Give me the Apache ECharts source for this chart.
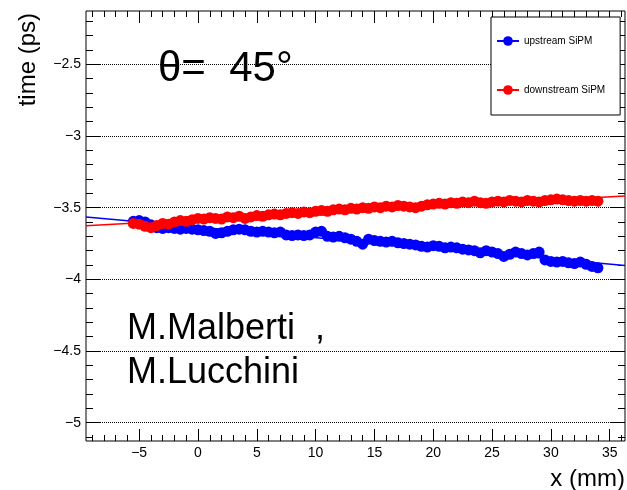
<!DOCTYPE html>
<html>
<head>
<meta charset="utf-8">
<script src="https://cdn.jsdelivr.net/npm/echarts@6/dist/echarts.min.js"></script>
<style>
  html, body { margin: 0; padding: 0; background: #fff; }
  #chart { width: 627px; height: 490px; }
</style>
</head>
<body>
<div id="chart"></div>
<script>
// x positions (mm) of the scan points
const xPos = [
  -5.5, -5, -4.5, -4, -3.5, -3, -2.5, -2, -1.5, -1,
  -0.5, 0, 0.5, 1, 1.5, 2, 2.5, 3, 3.5, 4,
  4.5, 5, 5.5, 6, 6.5, 7, 7.5, 8, 8.5, 9,
  9.5, 10, 10.5, 11, 11.5, 12, 12.5, 13, 13.5, 14,
  14.5, 15, 15.5, 16, 16.5, 17, 17.5, 18, 18.5, 19,
  19.5, 20, 20.5, 21, 21.5, 22, 22.5, 23, 23.5, 24,
  24.5, 25, 25.5, 26, 26.5, 27, 27.5, 28, 28.5, 29,
  29.5, 30, 30.5, 31, 31.5, 32, 32.5, 33, 33.5, 34
];
const upstream = [
  -3.595, -3.59, -3.60, -3.62, -3.64, -3.645, -3.64, -3.645, -3.65, -3.645,
  -3.65, -3.655, -3.66, -3.665, -3.68, -3.675, -3.665, -3.655, -3.65, -3.655,
  -3.665, -3.67, -3.665, -3.67, -3.675, -3.67, -3.69, -3.695, -3.69, -3.695,
  -3.69, -3.67, -3.665, -3.70, -3.705, -3.70, -3.71, -3.72, -3.735, -3.755,
  -3.72, -3.73, -3.735, -3.74, -3.735, -3.745, -3.75, -3.755, -3.76, -3.77,
  -3.775, -3.765, -3.77, -3.78, -3.775, -3.78, -3.79, -3.795, -3.80, -3.815,
  -3.80, -3.81, -3.82, -3.84, -3.825, -3.81, -3.82, -3.83, -3.82, -3.81,
  -3.865, -3.875, -3.88, -3.875, -3.885, -3.89, -3.88, -3.895, -3.91, -3.92
];
const downstream = [
  -3.61, -3.615, -3.63, -3.64, -3.625, -3.61, -3.615, -3.60, -3.59, -3.595,
  -3.585, -3.575, -3.58, -3.57, -3.575, -3.58, -3.565, -3.57, -3.56, -3.575,
  -3.565, -3.555, -3.56, -3.55, -3.545, -3.55, -3.54, -3.535, -3.54, -3.53,
  -3.535, -3.525, -3.52, -3.525, -3.515, -3.51, -3.515, -3.505, -3.51, -3.50,
  -3.505, -3.495, -3.50, -3.49, -3.495, -3.485, -3.49, -3.495, -3.50, -3.49,
  -3.48, -3.475, -3.47, -3.475, -3.465, -3.47, -3.46, -3.465, -3.455, -3.465,
  -3.47, -3.46, -3.455, -3.46, -3.45, -3.455, -3.46, -3.45, -3.455, -3.46,
  -3.45, -3.445, -3.44, -3.445, -3.45, -3.455, -3.45, -3.455, -3.45, -3.455
];
// straight-line fits, read at the two frame edges
const fitX = [-9.52, 36.3];
const upstreamFit = [-3.566, -3.903];
const downstreamFit = [-3.626, -3.419];

const xMajor = [-5, 0, 5, 10, 15, 20, 25, 30, 35];
const yMajor = [-5, -4.5, -4, -3.5, -3, -2.5];

const X_MIN = -9.52, X_MAX = 36.3;
const Y_MIN = -5.128, Y_MAX = -2.128;
const FONT = '"Liberation Sans", Arial, sans-serif';

const xMinor = [];
for (let v = -9; v <= 36; v++) xMinor.push(v);
const yMinor = [];
for (let i = -51; i <= -22; i++) yMinor.push(i / 10);

const minus = v => String(v).replace('-', '\u2212');
const pairs = (xs, ys) => xs.map((x, i) => [x, ys[i]]);

function axis(pos, min, max, ticks, len, labels, grid) {
  return {
    type: 'value', position: pos, min: min, max: max,
    axisLine: { show: false, onZero: false },
    axisTick: { show: true, inside: true, length: len, customValues: ticks,
      lineStyle: { color: '#000', width: 1 } },
    axisLabel: labels ? { show: true, customValues: ticks, formatter: minus,
      fontSize: 14, color: '#000', fontFamily: FONT, margin: 5 } : { show: false },
    splitLine: grid ? { show: true, lineStyle: { color: '#000', type: 'dotted', width: 1 } } : { show: false }
  };
}

const chart = echarts.init(document.getElementById('chart'), null, { renderer: 'canvas' });
chart.setOption({
  animation: false,
  backgroundColor: '#fff',
  grid: { left: 86, top: 11, right: 2, bottom: 49, show: true,
    borderColor: '#000', borderWidth: 1, backgroundColor: 'transparent' },
  xAxis: [
    axis('bottom', X_MIN, X_MAX, xMajor, 12, true, false),
    axis('bottom', X_MIN, X_MAX, xMinor, 6, false, false),
    axis('top', X_MIN, X_MAX, xMajor, 12, false, false),
    axis('top', X_MIN, X_MAX, xMinor, 6, false, false)
  ],
  yAxis: [
    axis('left', Y_MIN, Y_MAX, yMajor, 14, true, true),
    axis('left', Y_MIN, Y_MAX, yMinor, 7, false, false),
    axis('right', Y_MIN, Y_MAX, yMajor, 14, false, false),
    axis('right', Y_MIN, Y_MAX, yMinor, 7, false, false)
  ],
  legend: {
    data: ['upstream SiPM', 'downstream SiPM'],
    orient: 'vertical', left: 491, top: 17,
    padding: [19, 15, 20, 5],
    itemGap: 39, itemWidth: 22, itemHeight: 12,
    backgroundColor: '#fff', borderColor: '#000', borderWidth: 1,
    selectedMode: false,
    textStyle: { fontSize: 10, color: '#000', fontFamily: FONT }
  },
  series: [
    { name: 'upstream fit', type: 'line', data: pairs(fitX, upstreamFit), showSymbol: false,
      lineStyle: { color: '#0000ff', width: 1.5 }, silent: true },
    { name: 'downstream fit', type: 'line', data: pairs(fitX, downstreamFit), showSymbol: false,
      lineStyle: { color: '#ff0000', width: 1.5 }, silent: true },
    { name: 'upstream SiPM', type: 'line', data: pairs(xPos, upstream),
      symbol: 'circle', symbolSize: 11, color: '#0000ff',
      itemStyle: { color: '#0000ff' }, lineStyle: { color: '#0000ff', width: 1.5 } },
    { name: 'downstream SiPM', type: 'line', data: pairs(xPos, downstream),
      symbol: 'circle', symbolSize: 11, color: '#ff0000',
      itemStyle: { color: '#ff0000' }, lineStyle: { color: '#ff0000', width: 1.5 } }
  ],
  graphic: [
    { type: 'text', x: 28, y: 13, rotation: Math.PI / 2,
      style: { text: 'time (ps)', font: '24px ' + FONT, fill: '#000', align: 'right', verticalAlign: 'middle' } },
    { type: 'text', x: 625, y: 479,
      style: { text: 'x (mm)', font: '24px ' + FONT, fill: '#000', align: 'right', verticalAlign: 'middle' } },
    { type: 'text', x: 158, y: 69,
      style: { text: '\u03b8=  45\u00b0', font: '42px ' + FONT, fill: '#000', align: 'left', verticalAlign: 'middle' } },
    { type: 'text', x: 127, y: 329,
      style: { text: 'M.Malberti  ,', font: '36px ' + FONT, fill: '#000', align: 'left', verticalAlign: 'middle' } },
    { type: 'text', x: 127, y: 373,
      style: { text: 'M.Lucchini', font: '36px ' + FONT, fill: '#000', align: 'left', verticalAlign: 'middle' } }
  ]
});
</script>
</body>
</html>
